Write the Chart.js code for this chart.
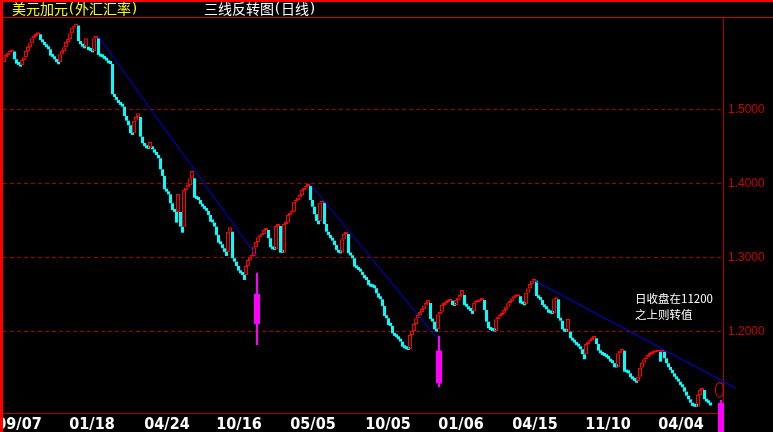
<!DOCTYPE html>
<html><head><meta charset="utf-8">
<script src="https://cdn.jsdelivr.net/npm/chart.js@4.4.1/dist/chart.umd.min.js"></script>
<style>html,body{margin:0;padding:0;background:#000;overflow:hidden}#wrap{width:773px;height:432px;position:relative}</style>
</head><body><div id="wrap"><canvas id="c" width="773" height="432"></canvas></div>
<script>
// ---- data (three-line-break blocks, closing prices) ----
const firstOpen = 1.5639;
const closes = [
1.5703,1.5734,1.5765,1.5781,1.5797,1.5676,1.5616,1.5599,1.5576,1.5666,
1.5703,1.5788,1.5842,1.5892,1.5959,1.5991,1.6014,1.6027,1.5937,1.5905,
1.5869,1.5838,1.5811,1.5724,1.5707,1.5676,1.5639,1.5608,1.5743,1.5788,
1.5838,1.5909,1.5950,1.6027,1.6103,1.6132,1.6153,1.5923,1.5878,1.5846,
1.5824,1.5959,1.5801,1.5788,1.5770,1.5959,1.5991,1.5734,1.5711,1.5703,
1.5680,1.5657,1.5622,1.5612,1.5203,1.5166,1.5126,1.5085,1.5058,1.5035,
1.4909,1.4846,1.4784,1.4676,1.4653,1.4846,1.4896,1.4946,1.4630,1.4541,
1.4504,1.4473,1.4464,1.4558,1.4459,1.4414,1.4382,1.4338,1.4189,1.4099,
1.3919,1.3887,1.3851,1.3730,1.3639,1.3612,1.3468,1.3855,1.3414,1.3332,
1.3909,1.3943,1.3977,1.4068,1.4166,1.3805,1.3788,1.3774,1.3720,1.3684,
1.3653,1.3626,1.3572,1.3481,1.3470,1.3414,1.3301,1.3197,1.3176,1.3122,
1.3072,1.3018,1.3346,1.3405,1.2987,1.2941,1.2882,1.2819,1.2784,1.2761,
1.2693,1.2882,1.2964,1.3008,1.3018,1.3135,1.3207,1.3270,1.3295,1.3315,
1.3369,1.3378,1.3257,1.3135,1.3108,1.3099,1.3423,1.3430,1.3062,1.3058,
1.3450,1.3468,1.3572,1.3603,1.3616,1.3751,1.3774,1.3808,1.3842,1.3909,
1.3941,1.3964,1.3977,1.3774,1.3684,1.3581,1.3491,1.3446,1.3738,1.3751,
1.3450,1.3346,1.3301,1.3257,1.3224,1.3166,1.3099,1.3062,1.3051,1.3243,
1.3315,1.3322,1.3054,1.3024,1.2987,1.2873,1.2851,1.2828,1.2805,1.2761,
1.2716,1.2693,1.2626,1.2603,1.2595,1.2581,1.2514,1.2454,1.2432,1.2342,
1.2207,1.2176,1.2085,1.2072,1.1973,1.1937,1.1919,1.1892,1.1859,1.1792,
1.1770,1.1757,1.1747,1.1950,1.2004,1.2099,1.2176,1.2220,1.2261,1.2301,
1.2349,1.2382,1.2423,1.2166,1.2130,1.2027,1.1995,1.2230,1.2265,1.2355,
1.2378,1.2396,1.2414,1.2427,1.2355,1.2342,1.2423,1.2457,1.2490,1.2558,
1.2355,1.2332,1.2297,1.2274,1.2234,1.2386,1.2396,1.2405,1.2423,1.2430,
1.2288,1.2130,1.2040,1.2017,1.2004,1.1997,1.2162,1.2197,1.2220,1.2243,
1.2288,1.2332,1.2378,1.2409,1.2446,1.2468,1.2474,1.2477,1.2378,1.2365,
1.2351,1.2522,1.2581,1.2639,1.2684,1.2691,1.2477,1.2446,1.2423,1.2355,
1.2324,1.2297,1.2251,1.2241,1.2234,1.2432,1.2437,1.2176,1.2143,1.2027,
1.1995,1.1991,1.2166,1.1905,1.1873,1.1846,1.1815,1.1792,1.1757,1.1689,
1.1622,1.1828,1.1859,1.1882,1.1905,1.1937,1.1828,1.1738,1.1703,1.1680,
1.1666,1.1649,1.1626,1.1589,1.1568,1.1514,1.1511,1.1703,1.1738,1.1747,
1.1454,1.1443,1.1432,1.1378,1.1351,1.1328,1.1305,1.1386,1.1508,1.1576,
1.1622,1.1649,1.1680,1.1693,1.1711,1.1716,1.1724,1.1728,1.1589,1.1734,
1.1635,1.1568,1.1514,1.1477,1.1432,1.1386,1.1351,1.1319,1.1274,1.1243,
1.1184,1.1130,1.1081,1.1035,1.0991,1.0981,1.0977,1.1139,1.1207,1.1211,
1.1081,1.1049,1.1027,1.0997
];
const dateLabels = ['09/07','01/18','04/24','10/16','05/05','10/05','01/06','04/15','11/10','04/04'];
const dateTickIndex = [7.5,44,81.5,117.5,154.5,192,228.5,265.5,302,338.5];
const priceTicks = [1.2,1.3,1.4,1.5];
const trendA = [{x:47,y:1.5991},{x:126.5,y:1.3004}];
const trendB = [{x:153.5,y:1.3977},{x:216.5,y:1.1909}];
const trendC = [{x:265.5,y:1.2680},{x:366,y:1.1230}];
const signalIndex = [126.5,217.5,358.5];
const signalRange = [[1.1815,1.2792],[1.1247,1.1941],[1.0600,1.1072]];
const signalBody  = [[1.2099,1.2504],[1.1297,1.1738],[1.0600,1.1031]];
const titleLeft = '美元加元(外汇汇率)';
const titleMain = '三线反转图(日线)';
const noteText = ['日收盘在11200','之上则转值'];
const notePos = [{x:315.5,y:1.2437},{x:315.5,y:1.2227}];
const markerPos = {x:357.75,y:1.1207};

// ---- build block ranges (three-line-break rule) ----
const opens = [];
let pOpen = firstOpen, pClose = firstOpen, pDir = 1;
closes.forEach((c,i)=>{
  const dir = c > pClose ? 1 : -1;
  const o = (i===0 || dir===pDir) ? pClose : pOpen;
  opens.push(o); pOpen=o; pClose=c; pDir=dir;
});
const upBlocks=[], downBlocks=[];
closes.forEach((c,i)=>{ const o=opens[i]; (c>o?upBlocks:downBlocks).push({x:i,y:[o,c]}); });
const thinData = signalIndex.map((x,k)=>({x, y:signalRange[k]}));
const thickData = signalIndex.map((x,k)=>({x, y:signalBody[k]}));

function drawCells(ctx, text, x, y){
  for (const ch of text){
    const half = ch.charCodeAt(0) < 256;
    const w = half ? 7 : 14;
    ctx.font = half ? "14px 'DejaVu Sans'" : "14px 'Noto Sans CJK SC'";
    ctx.textAlign='center';
    ctx.fillText(ch, x + w/2, y);
    x += w;
  }
}

const frame = {
  id:'frame',
  beforeDraw(chart){
    const ctx=chart.ctx; ctx.save(); ctx.fillStyle='#000'; ctx.fillRect(0,0,chart.width,chart.height); ctx.restore();
  },
  beforeDatasetsDraw(chart){
    const ctx=chart.ctx, a=chart.chartArea; ctx.save();
    ctx.fillStyle='#ff0000'; ctx.fillRect(0,0,chart.width,2); ctx.fillRect(0,0,3,chart.height);
    ctx.fillStyle='#d00000'; ctx.fillRect(3,a.top,chart.width-3,1);
    ctx.fillStyle='#b00000'; ctx.fillRect(a.right,a.top,1,chart.height-a.top); ctx.fillRect(a.left,a.bottom-1,a.right-a.left,1);
    ctx.restore();
  },
  afterDraw(chart){
    const ctx=chart.ctx, xs=chart.scales.x, ys=chart.scales.y; ctx.save();
    ctx.textBaseline='middle';
    ctx.fillStyle='#ffff00'; drawCells(ctx, titleLeft, 12, 9);
    ctx.fillStyle='#ffffff'; drawCells(ctx, titleMain, 204, 9);
    ctx.textAlign='left';
    ctx.font="11.5px 'Noto Sans CJK SC'"; ctx.fillStyle='#ffffff';
    noteText.forEach((t,k)=>ctx.fillText(t, xs.getPixelForValue(notePos[k].x), ys.getPixelForValue(notePos[k].y)));
    ctx.strokeStyle='#ff0000'; ctx.lineWidth=1; ctx.beginPath();
    ctx.ellipse(xs.getPixelForValue(markerPos.x), ys.getPixelForValue(markerPos.y), 4, 7.5, 0, 0, Math.PI*2); ctx.stroke();
    ctx.restore();
  }
};

new Chart(document.getElementById('c'), {
  type:'bar',
  data:{datasets:[
    {type:'line',data:trendA,borderColor:'#0000ff',borderWidth:1,pointRadius:0,clip:false},
    {type:'line',data:trendB,borderColor:'#0000ff',borderWidth:1,pointRadius:0,clip:false},
    {type:'line',data:trendC,borderColor:'#0000ff',borderWidth:1,pointRadius:0,clip:false},
    {data:thinData,backgroundColor:'#ff00ff',barThickness:2,clip:false},
    {data:thickData,backgroundColor:'#ff00ff',barThickness:6,clip:false},
    {data:upBlocks,backgroundColor:'rgba(0,0,0,0)',borderColor:'#ff0000',borderWidth:1,barThickness:4,minBarLength:2},
    {data:downBlocks,xAxisID:'x2',backgroundColor:'#00ffff',borderWidth:0,barThickness:3,minBarLength:3}
  ]},
  options:{
    responsive:false, animation:false, devicePixelRatio:1,
    layout:{padding:{left:3,top:17,right:0,bottom:0}},
    plugins:{legend:{display:false},tooltip:{enabled:false},title:{display:false}},
    datasets:{bar:{grouped:false,inflateAmount:0,borderSkipped:false}},
    scales:{
      x:{type:'linear',min:-0.5,max:359.5,offset:false,
        grid:{display:false,drawTicks:false},border:{display:false},
        ticks:{color:'#ffffff',autoSkip:false,maxRotation:0,padding:1,
          font:{family:"'Liberation Sans Narrow','DejaVu Sans Condensed',sans-serif",size:16,weight:'bold'},
          callback:(v,i)=>dateLabels[i]},
        afterBuildTicks:s=>{s.ticks=dateTickIndex.map(v=>({value:v}));},
        afterFit:s=>{s.height=18;s.paddingLeft=0;s.paddingRight=0;}
      },
      x2:{type:'linear',display:false,min:-0.75,max:359.25,offset:false,grid:{display:false}},
      y:{position:'right',min:1.0882,max:1.6247,
        grid:{color:'#a00000',lineWidth:1,drawTicks:false},border:{display:false,dash:[4,3]},
        ticks:{color:'#c80000',padding:5,font:{family:"'Liberation Sans',Arial,sans-serif",size:12},callback:v=>Number(v).toFixed(4)},
        afterBuildTicks:s=>{s.ticks=priceTicks.map(v=>({value:v}));},
        afterFit:s=>{s.width=50;s.paddingTop=0;s.paddingBottom=0;}
      }
    }
  },
  plugins:[frame]
});
</script></body></html>
